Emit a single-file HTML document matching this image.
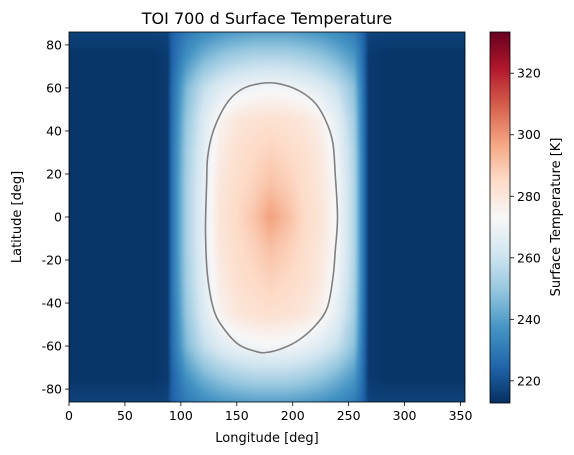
<!DOCTYPE html>
<html><head><meta charset="utf-8"><style>
body{margin:0;background:#fff;width:574px;height:455px;overflow:hidden;position:relative;font-family:"DejaVu Sans","Liberation Sans",sans-serif;}
canvas{position:absolute;}
svg{position:absolute;left:0;top:0;}
</style></head><body>
<canvas id="heat" width="396" height="370" style="left:69px;top:32px"></canvas>
<svg id="svg" width="574" height="455"></svg>
<script>
const lonGrid=[0,15,30,45,60,75,88,92,105,120,135,150,165,180,195,210,225,240,255,263,268,285,300,315,330,345,360];
const latGrid=[90,75,60,45,30,15,0,-15,-30,-45,-60,-75,-90];
const rowLat90=[218,218,218,218,218,218,218,224,228,231,233,234,235,235,235,234,233,231,228,224,218,218,218,218,218,218,218];
const rowLat75=[214,214,214,214,214,214,215,224,236,244,249,252,254,254,254,252,249,244,238,226,215,214,214,214,214,214,214];
const rowLat60=[214,214,214,214,214,214,215,226,246,258,265,269,271,272,271,269,265,259,248,228,215,214,214,214,214,214,214];
const rowLat45=[214,214,214,214,214,214,215,227,250,264,275,280,282,283,282,280,276,267,252,229,215,214,214,214,214,214,214];
const rowLat30=[214,214,214,214,214,214,215,228,252,266,278,283,285,287,285,283,279,270,254,230,215,214,214,214,214,214,214];
const rowLat15=[214,214,214,214,214,214,215,228,253,267,280,284,287,291,288,284,280,272,255,230,215,214,214,214,214,214,214];
const rowLat0 =[214,214,214,214,214,214,215,228,253,267,281,285,290,298,292,285,281,272,255,230,215,214,214,214,214,214,214];
const tempRows=[rowLat90,rowLat75,rowLat60,rowLat45,rowLat30,rowLat15,rowLat0,rowLat15,rowLat30,rowLat45,rowLat60,rowLat75,rowLat90];
const contourLon=[167,185,206,221,231,236,238,240,238,236,231,221,206,191,176,167,152,140,130,124,122,123,124,129,140,152,167];
const contourLat=[61.7,62.2,58.6,52.4,43,34,20,0,-16,-28,-42,-50,-57,-61,-63,-62.5,-59.4,-53,-44,-28,-7,15,28,40,52,58.6,61.7];
const xTicks=[0,50,100,150,200,250,300,350];
const yTicks=[-80,-60,-40,-20,0,20,40,60,80];
const cbTicks=[220,240,260,280,300,320];
const vmin=212.8,vmax=333.4;
const cmap=['#053061','#2166ac','#4393c3','#92c5de','#d1e5f0','#f7f7f7','#fddbc7','#f4a582','#d6604d','#b2182b','#67001f'];

const L=69,T=32,W=396,H=370,lonMax=354,latMin=-86,latMax=86;
const xs=v=>L+v/lonMax*W, ys=v=>T+(latMax-v)/(latMax-latMin)*H;
const cbL=490,cbW=20,cbT=32,cbB=403;
const cy=v=>cbB-(v-vmin)/(vmax-vmin)*(cbB-cbT);
function hex(h){return [1,3,5].map(i=>parseInt(h.substr(i,2),16));}
const cm=cmap.map(hex);
function color(t){let u=Math.max(0,Math.min(1,(t-vmin)/(vmax-vmin)))*10;let i=Math.min(9,Math.floor(u)),f=u-i;return cm[i].map((c,k)=>c+(cm[i+1][k]-c)*f);}
function sample(lon,lat){
 let i=0;while(i<lonGrid.length-2&&lon>lonGrid[i+1])i++;
 const fx=Math.max(0,Math.min(1,(lon-lonGrid[i])/(lonGrid[i+1]-lonGrid[i])));
 let fj=(90-lat)/15,j=Math.min(11,Math.floor(fj)),fy=fj-j;
 const a=tempRows[j][i],b=tempRows[j][i+1],c=tempRows[j+1][i],d=tempRows[j+1][i+1];
 return (a*(1-fx)+b*fx)*(1-fy)+(c*(1-fx)+d*fx)*fy;
}
const ctx=document.getElementById('heat').getContext('2d');
const img=ctx.createImageData(W,H);
for(let py=0;py<H;py++)for(let px=0;px<W;px++){
 const lon=(px+0.5)/W*lonMax, lat=latMax-(py+0.5)/H*(latMax-latMin);
 const c=color(sample(lon,lat));const o=(py*W+px)*4;
 img.data[o]=c[0];img.data[o+1]=c[1];img.data[o+2]=c[2];img.data[o+3]=255;}
ctx.putImageData(img,0,0);

const svg=document.getElementById('svg');const NS='http://www.w3.org/2000/svg';
function mk(tag,attrs,parent){const e=document.createElementNS(NS,tag);for(const k in attrs)e.setAttribute(k,attrs[k]);(parent||svg).appendChild(e);return e;}
const pts=contourLon.map((v,i)=>[xs(v),ys(contourLat[i])]);
let d='M'+pts[0][0].toFixed(1)+','+pts[0][1].toFixed(1);
for(let i=0;i<pts.length-1;i++){const p0=pts[(i-1+pts.length-1)%(pts.length-1)],p1=pts[i],p2=pts[i+1],p3=pts[(i+2)%(pts.length-1)];
 d+='C'+(p1[0]+(p2[0]-p0[0])/6).toFixed(1)+','+(p1[1]+(p2[1]-p0[1])/6).toFixed(1)+' '+(p2[0]-(p3[0]-p1[0])/6).toFixed(1)+','+(p2[1]-(p3[1]-p1[1])/6).toFixed(1)+' '+p2[0].toFixed(1)+','+p2[1].toFixed(1);}
const ct=mk('path',{d:d,fill:'none',stroke:'#808080','stroke-width':1.6});


const fr=mk('rect',{x:L,y:T,width:W,height:H,fill:'none',stroke:'#000','stroke-width':0.8});


xTicks.forEach(v=>{const x=xs(v);mk('line',{x1:x,x2:x,y1:T+H,y2:T+H+4,stroke:'#000','stroke-width':0.8});
 const t=mk('text',{x:x,y:T+H+18,'text-anchor':'middle','font-size':'12.5',fill:'#000'});t.textContent=v;
 
 });
yTicks.forEach(v=>{const y=ys(v);mk('line',{x1:L-4,x2:L,y1:y,y2:y,stroke:'#000','stroke-width':0.8});
 const t=mk('text',{x:L-7,y:y+4.5,'text-anchor':'end','font-size':'12.5',fill:'#000'});t.textContent=v;
 
 });
const defs=mk('defs',{});const g=mk('linearGradient',{id:'cg',x1:0,y1:1,x2:0,y2:0},defs);
cmap.forEach((c,i)=>mk('stop',{offset:i/10,'stop-color':c},g));
const cb=mk('rect',{x:cbL,y:cbT,width:cbW,height:cbB-cbT,fill:'url(#cg)',stroke:'#000','stroke-width':0.8});


cbTicks.forEach(v=>{const y=cy(v);mk('line',{x1:cbL+cbW,x2:cbL+cbW+4,y1:y,y2:y,stroke:'#000','stroke-width':0.8});
 const t=mk('text',{x:cbL+cbW+7,y:y+4.5,'font-size':'12.5',fill:'#000'});t.textContent=v;
 
 });
function label(txt,x,y,size,rot,name){const t=mk('text',{x:x,y:y,'text-anchor':'middle','font-size':size,fill:'#000'});if(rot)t.setAttribute('transform','rotate(-90 '+x+' '+y+')');t.textContent=txt;
 
 }
label('TOI 700 d Surface Temperature',267,24,'16','','chart-title');
label('Longitude [deg]',267,442,'13','','x-axis-title');
label('Latitude [deg]',21,217,'13',true,'y-axis-title');
label('Surface Temperature [K]',560,217,'13',true,'colorbar-title');
</script>
</body></html>
